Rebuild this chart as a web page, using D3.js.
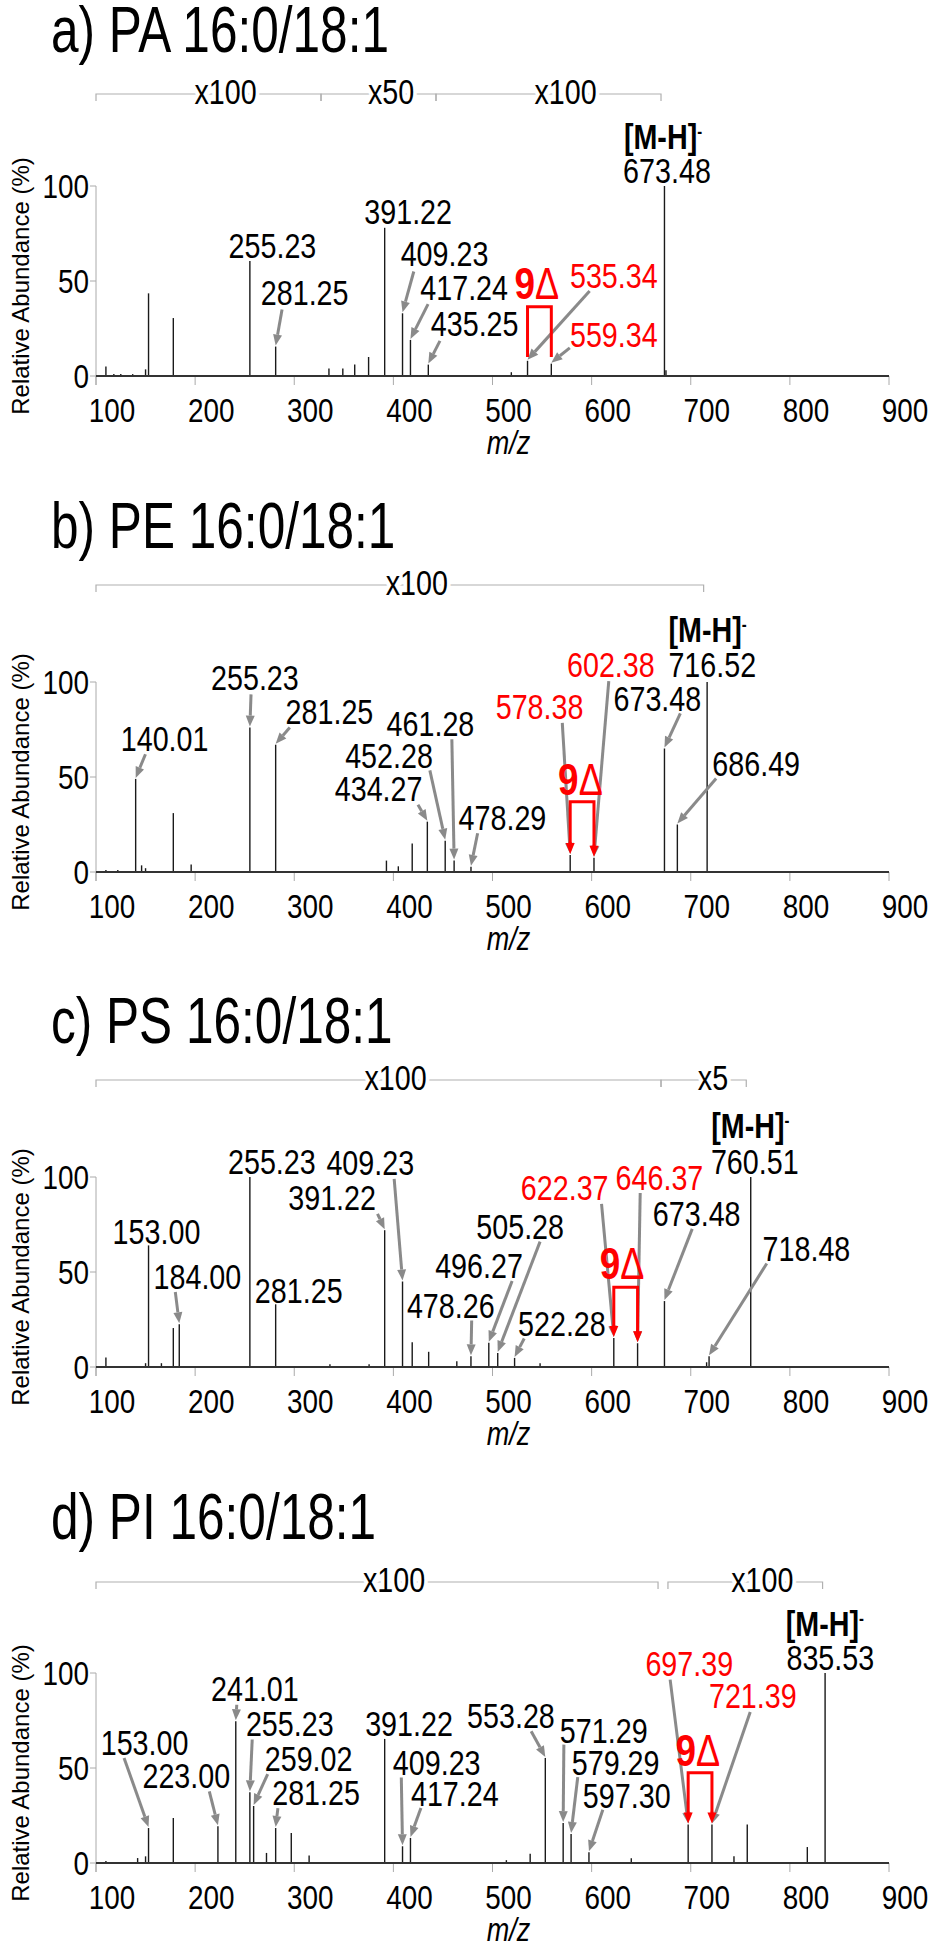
<!DOCTYPE html>
<html>
<head>
<meta charset="utf-8">
<script src="https://cdnjs.cloudflare.com/ajax/libs/d3/7.8.5/d3.min.js"></script>
<style>
  body { margin: 0; background: #fff; }
</style>
</head>
<body>
<div id="chart"></div>
<script>

// axis ticks and panel titles
var xTicks = [100, 200, 300, 400, 500, 600, 700, 800, 900];
var yTicks = [0, 50, 100];
var titles = ["a) PA 16:0/18:1", "b) PE 16:0/18:1", "c) PS 16:0/18:1", "d) PI 16:0/18:1"];

// spectra: [m/z, relative abundance %]
var paPeaks = [[110,5],[118,1],[125,1],[137,1],[150,3.5],[153,43.5],[178,30.5],[255.23,60.5],[281.25,15.5],
  [335,4],[349,4],[361,6],[375,10],[391.22,78],[409.23,33],[417.24,19],[435.25,6],[519,2],
  [535.34,8],[559.34,6.5],[673.48,100],[675,3]];
var pePeaks = [[110,1],[122,1],[140.01,49],[146,3.5],[150,2],[178,31],[196,4],[255.23,76],[281.25,67],
  [393,6],[405,3],[419,15],[434.27,26.5],[452.28,16.5],[461.28,6],[478.29,2.7],[578.38,9],[602.38,7.5],
  [673.48,65],[686.49,25],[716.52,100]];
var psPeaks = [[110,5],[150,2],[153,64],[166,2],[178,20.5],[184,22.5],[255.23,100],[281.25,33],[336,1.5],
  [375.5,1.5],[391.22,72],[409.23,45],[419,13],[435.6,8],[464,3],[478.26,5.6],[496.27,12.7],[505.28,7.4],
  [522.28,4.8],[548,2],[622.37,15.3],[646.37,12.5],[673.48,34.7],[716,2.5],[718.48,5.6],[760.51,100]];
var piPeaks = [[110,1],[142,2.6],[150,3.5],[153,18.4],[178,23.7],[223,19.3],[241.01,74.6],[255.23,37.2],
  [259.02,30],[272,5.3],[281.25,18.4],[297,15.8],[315,3.9],[391.22,65.3],[409.23,8.8],[417.24,13.2],
  [514,1.5],[538,4.9],[553.28,55.3],[571.29,21],[579.29,15.3],[597.3,5.6],[640,2.5],[697.39,20.2],
  [721.39,20.2],[743.6,3.5],[757,20.2],[817.6,8.4],[835.53,100]];

// magnification ranges: [from m/z, to m/z, factor]
var paZoom = [[100,327,"x100"],[327,443,"x50"],[443,670,"x100"]];
var peZoom = [[100,713,"x100"]];
var psZoom = [[100,670,"x100"],[670,756,"x5"]];
var piZoom = [[100,667,"x100"],[677,833,"x100"]];

// peak labels, placed in data coordinates; "to" is the peak an arrow points at
var paNotes = [
  {t:"255.23", mz:278, ab:62.1},
  {t:"391.22", mz:414.9, ab:79.8},
  {t:"281.25", mz:310.5, ab:37.5, from:[287.7,35], to:281.25},
  {t:"409.23", mz:451.6, ab:57.7, from:[420.6,55], to:409.23},
  {t:"417.24", mz:471.4, ab:40.1, from:[435,37.8], to:417.24},
  {t:"435.25", mz:482, ab:20.8, from:[447,18.5], to:435.25},
  {t:"535.34", mz:622.4, ab:46.3, from:[598,44.8], to:535.34, red:true},
  {t:"559.34", mz:622.4, ab:15.5, from:[578,14.8], to:559.34, red:true},
  {t:"673.48", mz:676, ab:101.8}
];
var peNotes = [
  {t:"716.52", mz:721.7, ab:102.7},
  {t:"602.38", mz:619.4, ab:102.7, from:[617.3,100.5], to:602.38, red:true},
  {t:"673.48", mz:666.3, ab:85, from:[689.5,83.5], to:673.48},
  {t:"578.38", mz:547.5, ab:80.5, from:[570.4,78.5], to:578.38, red:true},
  {t:"255.23", mz:260.3, ab:95.6, from:[256.4,93.5], to:255.23},
  {t:"281.25", mz:335.5, ab:77.9, from:[295.5,76], to:281.25},
  {t:"461.28", mz:437.4, ab:71.7, from:[459,69.9], to:461.28},
  {t:"140.01", mz:169.2, ab:63.7, from:[149.9,62], to:140.01},
  {t:"452.28", mz:395.6, ab:54.9, from:[436.8,53.5], to:452.28},
  {t:"434.27", mz:385.1, ab:37.2, from:[424.8,35.4], to:434.27},
  {t:"686.49", mz:766, ab:50.4, from:[725.6,49.2], to:686.49},
  {t:"478.29", mz:510, ab:22.1, from:[485,20.4], to:478.29}
];
var psNotes = [
  {t:"760.51", mz:764.6, ab:101.8},
  {t:"255.23", mz:277.4, ab:101.8},
  {t:"409.23", mz:376.7, ab:100.9, from:[400.8,99], to:409.23},
  {t:"622.37", mz:572.8, ab:87.7, from:[610,85.9], to:622.37, red:true},
  {t:"646.37", mz:668.4, ab:92.9, from:[649,91.6], to:646.37, red:true},
  {t:"391.22", mz:338.2, ab:82.4, from:[384,80.6], to:391.22},
  {t:"673.48", mz:706, ab:74.4, from:[701.5,72.7], to:673.48},
  {t:"505.28", mz:527.9, ab:67.4, from:[548,66], to:505.28},
  {t:"153.00", mz:161, ab:64.7},
  {t:"718.48", mz:816.7, ab:55.9, from:[776.7,54.5], to:718.48},
  {t:"496.27", mz:486.4, ab:47.1, from:[519.8,45.3], to:496.27},
  {t:"184.00", mz:202.3, ab:40.9, from:[180,39.5], to:184},
  {t:"281.25", mz:304.5, ab:33.9},
  {t:"478.26", mz:457.9, ab:25.9, from:[479,24.5], to:478.26},
  {t:"522.28", mz:570, ab:16.2, from:[532,15], to:522.28}
];
var piNotes = [
  {t:"835.53", mz:840.8, ab:101.8},
  {t:"697.39", mz:698.5, ab:98.2, from:[679.2,96.5], to:697.39, red:true},
  {t:"721.39", mz:762.6, ab:81.6, from:[760,79.5], to:721.39, red:true},
  {t:"241.01", mz:260.3, ab:85.1, from:[242,83.3], to:241.01},
  {t:"255.23", mz:295.5, ab:66.7, from:[257.6,65], to:255.23},
  {t:"391.22", mz:415.8, ab:66.7},
  {t:"553.28", mz:518.6, ab:71.1, from:[539,69.3], to:553.28},
  {t:"571.29", mz:612.2, ab:63.2, from:[572,62.3], to:571.29},
  {t:"153.00", mz:149, ab:57, from:[128.3,55.3], to:153},
  {t:"259.02", mz:314.5, ab:48.2, from:[273.2,46.8], to:259.02},
  {t:"409.23", mz:443.7, ab:46.5, from:[408,45], to:409.23},
  {t:"579.29", mz:624.2, ab:46.5, from:[586,45.2], to:579.29},
  {t:"223.00", mz:191.1, ab:39.5, from:[214.3,37.7], to:223},
  {t:"281.25", mz:322, ab:30.7, from:[283.5,28.9], to:281.25},
  {t:"417.24", mz:462, ab:29.8, from:[427.8,28.9], to:417.24},
  {t:"597.30", mz:635.4, ab:28.9, from:[611.3,28], to:597.3}
];

// [M-H]- label spot and the 9-delta pair
var ions = [[672,119.4],[717,121.2],[760.1,120.3],[835.3,119.3]];
var deltas = [
  {mz:522.3, ab:40.5, left:535.34, right:559.34, top:36.5, foot:10, heads:false},
  {mz:566.2, ab:40.7, left:578.38, right:602.38, top:37, heads:true},
  {mz:608.3, ab:46.2, left:622.37, right:646.37, top:42, heads:true},
  {mz:684.7, ab:50.9, left:697.39, right:721.39, top:47.5, heads:true}
];

var panels = [
  {peaks: paPeaks, zoom: paZoom, notes: paNotes},
  {peaks: pePeaks, zoom: peZoom, notes: peNotes},
  {peaks: psPeaks, zoom: psZoom, notes: psNotes},
  {peaks: piPeaks, zoom: piZoom, notes: piNotes}
];

var baselines = [376, 872, 1367, 1863];
var barOffsets = [-282, -287, -287, -281];
var RED = "#ff0000", GREY = "#8a8a8a";

// narrow font if installed, otherwise squeeze the regular one
var hasNarrow = (function(){
  var ctx = document.createElement("canvas").getContext("2d");
  var s = "0123456789 x.[M-H]";
  ctx.font = "40px monospace";
  var a = ctx.measureText(s).width;
  ctx.font = '40px "Liberation Sans Narrow", monospace';
  var b = ctx.measureText(s).width;
  return Math.abs(a - b) > 1;
})();
var FONT = hasNarrow ? '"Liberation Sans Narrow", "Arial Narrow", sans-serif' : '"Liberation Sans", Arial, sans-serif';
var SX = hasNarrow ? 1 : 0.82;

var svg = d3.select("#chart").append("svg")
  .attr("width", 935)
  .attr("height", 1950)
  .style("display", "block");

var x = d3.scaleLinear().domain([100, 900]).range([96, 889]);

function label(g, px, py, str, o){
  o = o || {};
  var sx = SX * (o.squeeze || 1);
  var t = g.append("text")
    .attr("transform", "translate(" + px + "," + py + ") scale(" + sx + ",1)")
    .attr("text-anchor", o.anchor || "middle")
    .attr("fill", o.color || "#000")
    .style("font-family", FONT)
    .style("font-size", (o.size || 35) + "px");
  if (o.bold) t.style("font-weight", "bold");
  if (o.italic) t.style("font-style", "italic");
  if (str !== null) t.text(str);
  return t;
}

function arrow(g, x1, y1, x2, y2, color){
  var L = 11, W = 4.5;
  var dx = x2 - x1, dy = y2 - y1, len = Math.sqrt(dx*dx + dy*dy);
  var ux = dx / len, uy = dy / len;
  var bx = x2 - ux*L, by = y2 - uy*L;
  g.append("line")
    .attr("x1", x1).attr("y1", y1).attr("x2", bx).attr("y2", by)
    .attr("stroke", color).attr("stroke-width", 3);
  g.append("polygon")
    .attr("points", [[x2, y2], [bx - uy*W, by + ux*W], [bx + uy*W, by - ux*W]].join(" "))
    .attr("fill", color);
}

function peakAt(peaks, mz){
  return peaks.filter(function(d){ return Math.abs(d[0] - mz) < 0.01; })[0];
}

panels.forEach(function(p, i){
  var base = baselines[i];
  var y = d3.scaleLinear().domain([0, 100]).range([base, base - 190]);
  var g = svg.append("g").attr("class", "panel");

  label(g, 51, base - 324, titles[i], {size: 65, anchor: "start", squeeze: 0.93});

  // magnification bar
  var by = base + barOffsets[i];
  p.zoom.forEach(function(s){
    g.append("path")
      .attr("d", "M" + x(s[0]) + "," + (by + 7) + "V" + by + "H" + x(s[1]) + "V" + (by + 7))
      .attr("fill", "none")
      .attr("stroke", "#b0b0b0")
      .attr("stroke-width", 1.2);
  });
  p.zoom.forEach(function(s){
    var w = x(s[1]) - x(s[0]);
    label(g, (x(s[0]) + x(s[1])) / 2 + Math.min(17, w * 0.11), by + 10, s[2])
      .attr("stroke", "#fff").attr("stroke-width", 9).attr("paint-order", "stroke");
  });

  // axes
  g.append("line")
    .attr("x1", x(100)).attr("x2", x(100))
    .attr("y1", y(100)).attr("y2", base + 9)
    .attr("stroke", "#aaa");
  yTicks.forEach(function(t){
    g.append("line").attr("x1", x(100) - 6).attr("x2", x(100))
      .attr("y1", y(t)).attr("y2", y(t)).attr("stroke", "#aaa");
    label(g, 89, y(t) + 12, t, {size: 34, anchor: "end"});
  });
  xTicks.forEach(function(t){
    g.append("line").attr("x1", x(t)).attr("x2", x(t))
      .attr("y1", base).attr("y2", base + 9).attr("stroke", "#aaa");
    label(g, x(t) + 16, base + 46, t, {size: 34});
  });
  label(g, x(500) + 16, base + 78, "m/z", {size: 33, italic: true});
  g.append("text")
    .attr("transform", "translate(29," + (base - 90) + ") rotate(-90)")
    .attr("text-anchor", "middle")
    .style("font-family", '"Liberation Sans", Arial, sans-serif')
    .style("font-size", "24px")
    .text("Relative Abundance (%)");

  // spectrum
  g.selectAll(".peak")
    .data(p.peaks)
    .enter()
    .append("line")
    .attr("class", "peak")
    .attr("x1", function(d){ return x(d[0]); })
    .attr("x2", function(d){ return x(d[0]); })
    .attr("y1", base)
    .attr("y2", function(d){ return y(d[1]); })
    .attr("stroke", "#1a1a1a")
    .attr("stroke-width", 1.4);
  g.append("line")
    .attr("x1", x(100)).attr("x2", x(900))
    .attr("y1", base).attr("y2", base)
    .attr("stroke", "#333").attr("stroke-width", 2);

  // grey arrows
  p.notes.forEach(function(n){
    if (!n.from) return;
    var pk = peakAt(p.peaks, n.to);
    arrow(g, x(n.from[0]), y(n.from[1]), x(pk[0]), y(pk[1]) - 1, GREY);
  });

  // red 9-delta bracket
  var d = deltas[i];
  var xl = x(d.left), xr = x(d.right), yt = y(d.top);
  if (d.heads) {
    var yl = y(peakAt(p.peaks, d.left)[1]) - 1, yr = y(peakAt(p.peaks, d.right)[1]) - 1;
    g.append("path")
      .attr("d", "M" + xl + "," + (yl - 10) + "V" + yt + "H" + xr + "V" + (yr - 10))
      .attr("fill", "none").attr("stroke", RED).attr("stroke-width", 3);
    arrow(g, xl, yl - 12, xl, yl, RED);
    arrow(g, xr, yr - 12, xr, yr, RED);
  } else {
    g.append("path")
      .attr("d", "M" + xl + "," + y(d.foot) + "V" + yt + "H" + xr + "V" + y(d.foot))
      .attr("fill", "none").attr("stroke", RED).attr("stroke-width", 3);
  }
  var dl = label(g, x(d.mz), y(d.ab), null, {anchor: "start", color: RED});
  dl.append("tspan").style("font-weight", "bold").style("font-size", "45px").text("9");
  dl.append("tspan").style("font-size", "44px").text("\u0394");

  // labels
  p.notes.forEach(function(n){
    label(g, x(n.mz), y(n.ab), n.t, {color: n.red ? RED : "#000"});
  });
  var ion = label(g, x(ions[i][0]), y(ions[i][1]), null, {bold: true});
  ion.append("tspan").text("[M-H]");
  ion.append("tspan").attr("dy", -11).style("font-size", "18px").text("-");
});

</script>
</body>
</html>
